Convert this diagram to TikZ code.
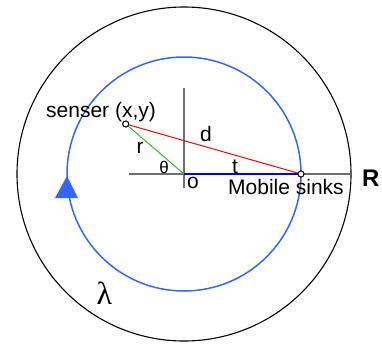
\documentclass[tikz,border=0pt]{standalone}
\usepackage{fontspec}
\setmainfont{Liberation Sans}
\newfontfamily\serifgreek{Liberation Serif}
\definecolor{ringblue}{RGB}{51,102,255}
\definecolor{axisgray}{RGB}{110,110,110}
\definecolor{lineblue}{RGB}{0,0,220}
\definecolor{linegreen}{RGB}{40,190,40}
\begin{document}
\begin{tikzpicture}[x=1pt,y=-1pt,
  lbl/.style={inner sep=0pt,font=\fontsize{21}{21}\selectfont},
  dot/.style={circle,draw=black,fill=white,line width=0.9pt,minimum size=6pt,inner sep=0pt},
  axis/.style={draw=axisgray,line width=1.8pt}]
\useasboundingbox (0,0) rectangle (382,343);
% outer circle
\draw[black,line width=1.1pt] (184,174) circle[radius=167];
% axes
\coordinate (O) at (184,174);
\coordinate (xl) at (129,174);
\coordinate (xr) at (351,174);
\coordinate (yt) at (184,88);
\coordinate (yb) at (184,188);
\draw[axis] (xl) -- (xr);
\draw[axis] (yt) -- (yb);
% blue ring
\draw[ringblue,line width=1.5pt] (O) circle[radius=117];
% arrow head on ring
\fill[ringblue] (67,176) -- (55,198) -- (78,198) -- cycle;
% points
\node[dot] (sensor) at (125.7,124) {};
\node[dot] (sink) at (301,174) {};
% lines
\draw[red,line width=1pt] (sensor) -- (sink);
\draw[linegreen,line width=1pt] (sensor) -- (O);
\draw[lineblue,line width=2pt] (O) -- (sink);
\node[dot] at (sensor) {};
\node[dot] at (sink) {};
% labels
\node[lbl,anchor=base west] (slbl) at (46,117) {senser (x,y)};
\node[lbl,anchor=base west] (mlbl) at (228,194) {Mobile sinks};
\node[lbl,anchor=base west,font=\fontsize{24}{24}\selectfont\bfseries] (Rlbl) at (362,186) {R};
\node[lbl,anchor=base] (olbl) at (193,188) {o};
\node[lbl,anchor=base] (tlbl) at (235,173) {t};
\node[lbl,anchor=base] (rlbl) at (140,153) {r};
\node[lbl,anchor=base] (dlbl) at (206,141) {d};
\node[lbl,anchor=base,font=\fontsize{17}{17}\selectfont] (thlbl) at (164,173) {θ};
\node[lbl,anchor=center,font=\fontsize{32}{32}\serifgreek] (lam) at (104.5,293) {λ};
\end{tikzpicture}
\end{document}
